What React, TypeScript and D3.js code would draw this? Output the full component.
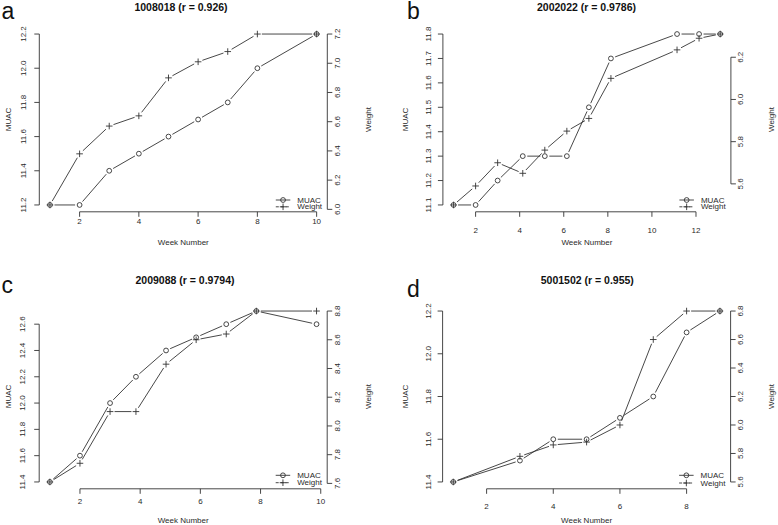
import React from "react";
import * as d3 from "d3";

// ---- Data ----
const weeksA = [1, 2, 3, 4, 5, 6, 7, 8, 10];
const muacA = [11.2, 11.2, 11.4, 11.5, 11.6, 11.7, 11.8, 12.0, 12.2];
const weightA = [6.03, 6.38, 6.57, 6.64, 6.9, 7.01, 7.08, 7.2, 7.2];
const muacTicksA = [11.2, 11.4, 11.6, 11.8, 12.0, 12.2];
const weightTicksA = [6.0, 6.2, 6.4, 6.6, 6.8, 7.0, 7.2];
const xTicksA = [2, 4, 6, 8, 10];

const weeksB = [1, 2, 3, 4.14, 5.14, 6.14, 7.14, 8.14, 11.14, 12.14, 13.1];
const muacB = [11.1, 11.1, 11.2, 11.3, 11.3, 11.3, 11.5, 11.7, 11.8, 11.8, 11.8];
const weightB = [5.5, 5.59, 5.7, 5.65, 5.76, 5.85, 5.91, 6.1, 6.235, 6.29, 6.31];
const muacTicksB = [11.1, 11.2, 11.3, 11.4, 11.5, 11.6, 11.7, 11.8];
const weightTicksB = [5.6, 5.8, 6.0, 6.2];
const xTicksB = [2, 4, 6, 8, 10, 12];

const weeksC = [1, 2, 3, 3.86, 4.86, 5.86, 6.86, 7.86, 9.86];
const muacC = [11.4, 11.6, 12.0, 12.2, 12.4, 12.5, 12.6, 12.7, 12.6];
const weightC = [7.61, 7.74, 8.1, 8.1, 8.43, 8.6, 8.64, 8.8, 8.8];
const muacTicksC = [11.4, 11.6, 11.8, 12.0, 12.2, 12.4, 12.6];
const weightTicksC = [7.6, 7.8, 8.0, 8.2, 8.4, 8.6, 8.8];
const xTicksC = [2, 4, 6, 8, 10];

const weeksD = [1, 3, 4, 5, 6, 7, 8, 9];
const muacD = [11.4, 11.5, 11.6, 11.6, 11.7, 11.8, 12.1, 12.2];
const weightD = [5.6, 5.78, 5.86, 5.88, 6.0, 6.6, 6.8, 6.8];
const muacTicksD = [11.4, 11.6, 11.8, 12.0, 12.2];
const weightTicksD = [5.6, 5.8, 6.0, 6.2, 6.4, 6.6, 6.8];
const xTicksD = [2, 4, 6, 8];

const titles = ["1008018 (r = 0.926)", "2002022 (r = 0.9786)", "2009088 (r = 0.9794)", "5001502 (r = 0.955)"];
const letters = ["a", "b", "c", "d"];
const seriesNames = ["MUAC", "Weight"];

// ---- Layout ----
const BOX_W = 288;
const BOX_H = 184.6;
const FONT = "'Liberation Sans', Arial, Helvetica, sans-serif";
const INK = "#2a2a2a";
const LINE = "#333";

const layouts = [
  { l: 39.3, t: 27.2, yLabX: 8.3, leftTickOff: 16.3, xLabY: 221.7, xTitleY: 242.7, titleX: 181, titleY: 6.5, letterX: 1.5, letterY: 18.5, legY1: 200, legY2: 206.8 },
  { l: 442.9, t: 27.2, yLabX: 405, leftTickOff: 14.6, xLabY: 230.5, xTitleY: 242.7, titleX: 586.5, titleY: 6.5, letterX: 407, letterY: 18.5, legY1: 200, legY2: 206.8 },
  { l: 39.2, t: 304.2, yLabX: 8.3, leftTickOff: 16.3, xLabY: 501.3, xTitleY: 520.3, titleX: 185, titleY: 280.3, letterX: 1.5, letterY: 292.5, legY1: 475.3, legY2: 482.7 },
  { l: 442.6, t: 304.2, yLabX: 405, leftTickOff: 14.6, xLabY: 506, xTitleY: 520.3, titleX: 587.3, titleY: 280.3, letterX: 407, letterY: 297, legY1: 475.3, legY2: 483 },
];

const panels = [
  { weeks: weeksA, muac: muacA, weight: weightA, muacTicks: muacTicksA, weightTicks: weightTicksA, xTicks: xTicksA },
  { weeks: weeksB, muac: muacB, weight: weightB, muacTicks: muacTicksB, weightTicks: weightTicksB, xTicks: xTicksB },
  { weeks: weeksC, muac: muacC, weight: weightC, muacTicks: muacTicksC, weightTicks: weightTicksC, xTicks: xTicksC },
  { weeks: weeksD, muac: muacD, weight: weightD, muacTicks: muacTicksD, weightTicks: weightTicksD, xTicks: xTicksD },
];

function padded(vals: number[]): [number, number] {
  const [lo, hi] = d3.extent(vals) as [number, number];
  const r = hi - lo;
  return [lo - 0.04 * r, hi + 0.04 * r];
}

const GAP = 4.5;

function gappedSegments(pts: [number, number][]) {
  const segs: string[] = [];
  for (let i = 0; i < pts.length - 1; i++) {
    const [x0, y0] = pts[i];
    const [x1, y1] = pts[i + 1];
    const dx = x1 - x0, dy = y1 - y0;
    const d = Math.hypot(dx, dy);
    if (d <= 2 * GAP + 0.5) continue;
    const ux = dx / d, uy = dy / d;
    segs.push(`M${x0 + ux * GAP},${y0 + uy * GAP}L${x1 - ux * GAP},${y1 - uy * GAP}`);
  }
  return segs.join("");
}

function Circle({ x, y }: { x: number; y: number }) {
  return <circle cx={x} cy={y} r={2.4} fill="none" stroke={LINE} strokeWidth={0.9} />;
}
function Plus({ x, y }: { x: number; y: number }) {
  const s = 3.3;
  return <path d={`M${x - s},${y}H${x + s}M${x},${y - s}V${y + s}`} stroke={LINE} strokeWidth={0.9} />;
}

function Panel({ idx }: { idx: number }) {
  const p = panels[idx];
  const L = layouts[idx];
  const left = L.l, top = L.t, right = L.l + BOX_W, bottom = L.t + BOX_H;
  const x = d3.scaleLinear().domain(padded(p.weeks)).range([left, right]);
  const yM = d3.scaleLinear().domain(padded(p.muac)).range([bottom, top]);
  const yW = d3.scaleLinear().domain(padded(p.weight)).range([bottom, top]);

  const muacPts = p.weeks.map((w, i) => [x(w), yM(p.muac[i])] as [number, number]);
  const weightPts = p.weeks.map((w, i) => [x(w), yW(p.weight[i])] as [number, number]);

  const tick = 5;
  const xt0 = x(p.xTicks[0]), xt1 = x(p.xTicks[p.xTicks.length - 1]);
  const ym0 = yM(p.muacTicks[0]), ym1 = yM(p.muacTicks[p.muacTicks.length - 1]);
  const yw0 = yW(p.weightTicks[0]), yw1 = yW(p.weightTicks[p.weightTicks.length - 1]);

  const legL1 = right - 51.5, legL2 = right - 37, legMid = (legL1 + legL2) / 2, legText = right - 30;

  return (
    <g>
      {/* letter & title */}
      <text x={L.letterX} y={L.letterY} fontSize={23} fill="#111" fontFamily={FONT}>{letters[idx]}</text>
      <text x={L.titleX} y={L.titleY} fontSize={10.5} fontWeight="bold" fill="#111" fontFamily={FONT} textAnchor="middle" dominantBaseline="central">{titles[idx]}</text>

      {/* series */}
      <path d={gappedSegments(muacPts)} stroke={LINE} strokeWidth={0.9} fill="none" />
      <path d={gappedSegments(weightPts)} stroke={LINE} strokeWidth={0.9} fill="none" />
      {muacPts.map(([px, py], i) => <Circle key={"m" + i} x={px} y={py} />)}
      {weightPts.map(([px, py], i) => <Plus key={"w" + i} x={px} y={py} />)}

      {/* bottom axis */}
      <path d={`M${xt0},${bottom}H${xt1}`} stroke={LINE} strokeWidth={0.9} />
      {p.xTicks.map((t) => (
        <g key={"xt" + t}>
          <path d={`M${x(t)},${bottom}V${bottom + tick}`} stroke={LINE} strokeWidth={0.9} />
          <text x={x(t)} y={L.xLabY} fontSize={8} fill={INK} fontFamily={FONT} textAnchor="middle" dominantBaseline="central">{t}</text>
        </g>
      ))}
      <text x={(left + right) / 2} y={L.xTitleY} fontSize={8} fill={INK} fontFamily={FONT} textAnchor="middle" dominantBaseline="central">Week Number</text>

      {/* left axis */}
      <path d={`M${left},${ym0}V${ym1}`} stroke={LINE} strokeWidth={0.9} />
      {p.muacTicks.map((t) => (
        <g key={"ym" + t}>
          <path d={`M${left},${yM(t)}H${left - tick}`} stroke={LINE} strokeWidth={0.9} />
          <text transform={`translate(${left - L.leftTickOff},${yM(t)}) rotate(-90)`} fontSize={8} fill={INK} fontFamily={FONT} textAnchor="middle" dominantBaseline="central">{t.toFixed(1)}</text>
        </g>
      ))}
      <text transform={`translate(${L.yLabX},${(top + bottom) / 2}) rotate(-90)`} fontSize={8} fill={INK} fontFamily={FONT} textAnchor="middle" dominantBaseline="central">MUAC</text>

      {/* right axis */}
      <path d={`M${right},${yw0}V${yw1}`} stroke={LINE} strokeWidth={0.9} />
      {p.weightTicks.map((t) => (
        <g key={"yw" + t}>
          <path d={`M${right},${yW(t)}H${right + tick}`} stroke={LINE} strokeWidth={0.9} />
          <text transform={`translate(${right + 10},${yW(t)}) rotate(-90)`} fontSize={8} fill={INK} fontFamily={FONT} textAnchor="middle" dominantBaseline="central">{t.toFixed(1)}</text>
        </g>
      ))}
      <text transform={`translate(${right + 41},${(top + bottom) / 2}) rotate(-90)`} fontSize={8} fill={INK} fontFamily={FONT} textAnchor="middle" dominantBaseline="central">Weight</text>

      {/* legend */}
      <path d={`M${legL1},${L.legY1}H${legL2}`} stroke={LINE} strokeWidth={0.9} />
      <Circle x={legMid} y={L.legY1} />
      <text x={legText} y={L.legY1} fontSize={8} fill={INK} fontFamily={FONT} dominantBaseline="central">{seriesNames[0]}</text>
      <path d={`M${legL1},${L.legY2}H${legL2}`} stroke={LINE} strokeWidth={0.9} strokeDasharray="3,2" />
      <Plus x={legMid} y={L.legY2} />
      <text x={legText} y={L.legY2} fontSize={8} fill={INK} fontFamily={FONT} dominantBaseline="central">{seriesNames[1]}</text>
    </g>
  );
}

export default function App() {
  return (
    <svg width={778} height={525} viewBox="0 0 778 525" style={{ position: "absolute", left: 0, top: 0, background: "#fff" }}>
      <rect x={0} y={0} width={778} height={525} fill="#fff" />
      {panels.map((_, i) => <Panel key={i} idx={i} />)}
    </svg>
  );
}
